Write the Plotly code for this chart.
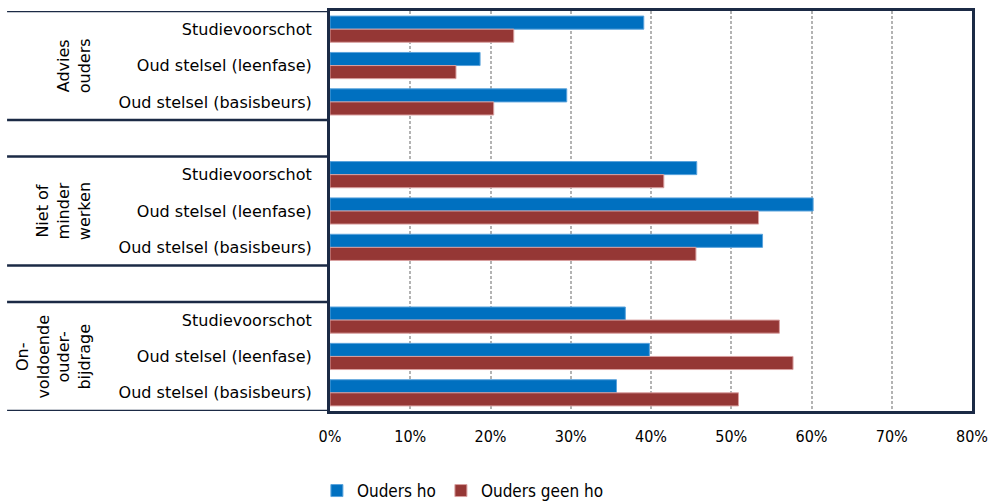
import plotly.graph_objects as go

# ---- data ----
groups = ["Advies<br>ouders", "Niet of<br>minder<br>werken", "On-<br>voldoende<br>ouder-<br>bijdrage"]
items = ["Studievoorschot", "Oud stelsel (leenfase)", "Oud stelsel (basisbeurs)"]
ouders_ho = [39.1, 18.7, 29.5, 45.7, 60.2, 53.9, 36.8, 39.8, 35.7]
ouders_geen_ho = [22.9, 15.7, 20.4, 41.6, 53.4, 45.6, 56.0, 57.7, 50.9]
x_ticks = [0, 10, 20, 30, 40, 50, 60, 70, 80]
x_ticklabels = ["0%", "10%", "20%", "30%", "40%", "50%", "60%", "70%", "80%"]

BLUE = "#0070C0"
RED = "#953735"
NAVY = "#1b2a45"
LABEL_FONT = "DejaVu Sans, Verdana, sans-serif"
NARROW_FONT = "Liberation Sans Narrow, DejaVu Sans Condensed, Arial Narrow, sans-serif"

n_items = len(items)
slot = n_items + 1  # one empty spacer row between groups
y_pos = []
y_labels = []
for g in range(len(groups)):
    for i, it in enumerate(items):
        y_pos.append(g * slot + i)
        y_labels.append(it)
n_rows = len(groups) * slot - 1

fig = go.Figure()
fig.add_trace(go.Bar(
    y=y_pos, x=ouders_ho, orientation="h", name="Ouders ho",
    marker=dict(color=BLUE, line=dict(color="#5aa3dc", width=1)),
))
fig.add_trace(go.Bar(
    y=y_pos, x=ouders_geen_ho, orientation="h", name="Ouders geen ho",
    marker=dict(color=RED, line=dict(color="#d9a0a0", width=1)),
))

# group boundary lines in the label area
shapes = []
bounds = [-0.5]
for g in range(len(groups)):
    start = g * slot - 0.5
    end = g * slot + n_items - 0.5
    if g > 0:
        bounds.append(start)
    bounds.append(end)
for b in sorted(set(bounds)):
    shapes.append(dict(type="line", xref="paper", yref="y", x0=-0.503, x1=0,
                       y0=b, y1=b, line=dict(color=NAVY, width=2.5), layer="above"))

annotations = []
for g, name in enumerate(groups):
    annotations.append(dict(
        text=name, xref="paper", yref="y", x=-0.365, y=g * slot + (n_items - 1) / 2,
        xanchor="right", yanchor="middle", textangle=-90, showarrow=False,
        align="center", font=dict(family=LABEL_FONT, size=16, color="#000000"),
    ))

fig.update_layout(
    width=992, height=501,
    margin=dict(l=330, r=20, t=11, b=90, autoexpand=False),
    paper_bgcolor="white", plot_bgcolor="white",
    barmode="group", bargap=0.28, bargroupgap=0,
    shapes=shapes, annotations=annotations,
    showlegend=True,
    legend=dict(orientation="h", xref="paper", yref="paper", x=0.207, y=-0.2,
                xanchor="center", yanchor="middle",
                font=dict(family=NARROW_FONT, size=17, color="#000000"),
                itemwidth=30, tracegroupgap=0, traceorder="normal"),
    xaxis=dict(range=[0, 80], tickvals=x_ticks, ticktext=x_ticklabels,
               showgrid=True, gridcolor="#b3b3b3", gridwidth=2, griddash="3px,2px",
               showline=True, linecolor=NAVY, linewidth=2.5, mirror=True,
               ticks="", zeroline=False, ticklabelstandoff=9,
               tickfont=dict(family=NARROW_FONT, size=16, color="#000000")),
    yaxis=dict(range=[n_rows - 0.5, -0.5], tickvals=y_pos, ticktext=y_labels,
               showgrid=False, zeroline=False,
               showline=True, linecolor=NAVY, linewidth=3, mirror=True,
               ticks="", ticklabelstandoff=12,
               tickfont=dict(family=LABEL_FONT, size=16, color="#000000")),
)

fig.write_html("out.html", config={"displayModeBar": False},
               post_script="document.body.style.margin='0';")
